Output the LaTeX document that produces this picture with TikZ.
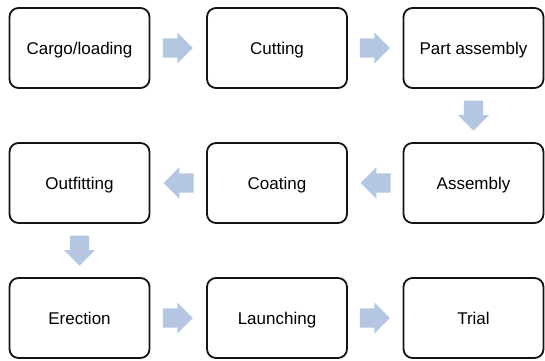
\documentclass[tikz,border=0pt]{standalone}
\usepackage{fontspec}
\setmainfont{Liberation Sans}
\usetikzlibrary{shapes.arrows,calc}
\definecolor{arrowblue}{RGB}{180,198,226}
\definecolor{boxline}{RGB}{20,20,20}
\begin{document}
\begin{tikzpicture}[x=1pt,y=-1pt,
  stepbox/.style={draw=boxline, line width=1.8pt, rounded corners=9pt, fill=white,
    minimum width=140pt, minimum height=80pt, inner sep=0pt, text height=14.5pt, text depth=1.5pt,
    font=\fontsize{17}{20}\selectfont},
  blockarrow/.style={single arrow, fill=arrowblue, draw=none, inner xsep=0pt, inner ysep=9.5pt,
    minimum height=30pt, single arrow head extend=6pt,
    single arrow head indent=0pt, anchor=tail}]
\useasboundingbox (0,0) rectangle (545,360);
\node[stepbox] (a) at (79.5,48) {Cargo/loading};
\node[stepbox] (b) at (277,48) {Cutting};
\node[stepbox] (c) at (473.5,48) {Part assembly};
\node[stepbox] (d) at (473.5,183) {Assembly};
\node[stepbox] (e) at (277,183) {Coating};
\node[stepbox] (f) at (79.5,183) {Outfitting};
\node[stepbox] (g) at (79.5,318) {Erection};
\node[stepbox] (h) at (277,318) {Launching};
\node[stepbox] (i) at (473.5,318) {Trial};
\node[blockarrow] (ab) at ($(a.east)!0.5!(b.west)+(-15.5,0)$) {};
\node[blockarrow] (bc) at ($(b.east)!0.5!(c.west)+(-15.5,0)$) {};
\node[blockarrow, rotate=-90] (cd) at ($(c.south)!0.5!(d.north)+(0,-15)$) {};
\node[blockarrow, rotate=180] (de) at ($(d.west)!0.5!(e.east)+(15.5,0)$) {};
\node[blockarrow, rotate=180] (ef) at ($(e.west)!0.5!(f.east)+(15.5,0)$) {};
\node[blockarrow, rotate=-90] (fg) at ($(f.south)!0.5!(g.north)+(0,-15)$) {};
\node[blockarrow] (gh) at ($(g.east)!0.5!(h.west)+(-15.5,0)$) {};
\node[blockarrow] (hi) at ($(h.east)!0.5!(i.west)+(-15.5,0)$) {};
\end{tikzpicture}
\end{document}
